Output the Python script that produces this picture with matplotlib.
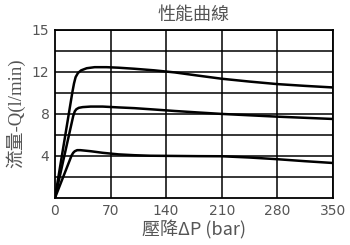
import matplotlib
matplotlib.use("Agg")
import matplotlib.pyplot as plt

# Data (y values on a 0-16 plotted scale; top label reads 15)
x_high = [0, 22, 24, 26, 29, 33, 40, 50, 65, 80, 100, 125, 151, 180, 210, 245, 280, 315, 350]
y_high = [0, 10.1, 10.9, 11.5, 11.9, 12.15, 12.35, 12.45, 12.45, 12.4, 12.3, 12.15, 11.95, 11.65, 11.35, 11.08, 10.84, 10.67, 10.52]

x_mid = [0, 23, 25, 27, 30, 35, 45, 60, 80, 100, 125, 151, 180, 210, 245, 280, 315, 350]
y_mid = [0, 7.8, 8.25, 8.45, 8.58, 8.65, 8.7, 8.7, 8.62, 8.55, 8.42, 8.28, 8.14, 8.0, 7.87, 7.74, 7.63, 7.52]

x_low = [0, 21, 23, 25, 28, 32, 45, 60, 80, 100, 120, 151, 180, 210, 245, 280, 315, 350]
y_low = [0, 4.05, 4.3, 4.45, 4.55, 4.55, 4.45, 4.3, 4.15, 4.07, 4.02, 4.0, 3.98, 3.97, 3.85, 3.69, 3.5, 3.33]

x_ticks = [0, 70, 140, 210, 280, 350]
y_grid = [2, 4, 6, 8, 10, 12, 14, 16]
y_tick_pos = [4, 8, 12, 16]
y_tick_labels = ["4", "8", "12", "15"]

title = "性能曲線"
xlabel = "壓降ΔP (bar)"
ylabel = "流量-Q(l/min)"

cjk = ["Noto Sans CJK TC", "DejaVu Sans"]
gray = "#555555"

fig = plt.figure(figsize=(3.5, 2.45), dpi=100)
ax = fig.add_axes([0.157, 0.192, 0.794, 0.686])

for v in x_ticks[1:]:
    ax.axvline(v, color="black", lw=1.1, zorder=1)
for v in y_grid:
    ax.axhline(v, color="black", lw=1.1, zorder=1)

for xs, ys in [(x_high, y_high), (x_mid, y_mid), (x_low, y_low)]:
    ax.plot(xs, ys, color="black", lw=1.8, solid_joinstyle="round", zorder=3)

ax.set_xlim(0, 350)
ax.set_ylim(0, 16)
ax.set_xticks(x_ticks)
ax.set_xticklabels([str(v) for v in x_ticks])
ax.set_yticks(y_tick_pos)
ax.set_yticklabels(y_tick_labels)
for s in ax.spines.values():
    s.set_color("black")
    s.set_linewidth(1.3)
ax.tick_params(length=0, labelsize=10, labelcolor=gray, pad=4)
for lab in ax.get_xticklabels() + ax.get_yticklabels():
    lab.set_family(["DejaVu Sans"])

fig.text(0.553, 0.94, title, ha="center", va="center", fontsize=13, color=gray, family=cjk)
fig.text(0.553, 0.062, xlabel, ha="center", va="center", fontsize=13, color=gray, family=cjk)
fig.text(0.043, 0.54, ylabel, ha="center", va="center", rotation=90, fontsize=13.5, color=gray,
         family=["Liberation Serif", "Noto Sans CJK TC"])

fig.savefig("out.png", dpi=100)
